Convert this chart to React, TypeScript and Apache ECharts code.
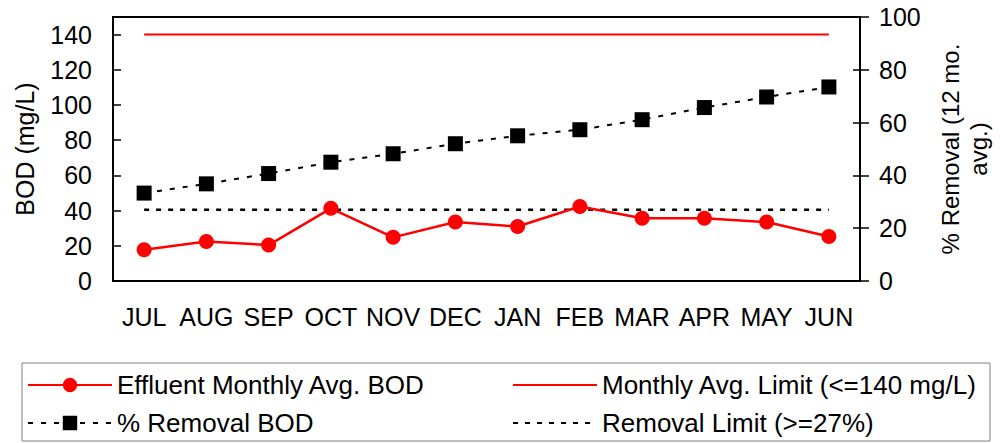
import React, { useEffect, useRef } from "react";
import * as echarts from "echarts";

const months = ["JUL", "AUG", "SEP", "OCT", "NOV", "DEC", "JAN", "FEB", "MAR", "APR", "MAY", "JUN"];
const effluentBOD = [17.7, 22.5, 20.4, 41.3, 24.8, 33.5, 31.0, 42.3, 35.6, 35.6, 33.5, 25.3];
const monthlyLimit = [140, 140, 140, 140, 140, 140, 140, 140, 140, 140, 140, 140];
const removalPct = [33.3, 36.8, 40.7, 45.0, 48.2, 52.0, 55.0, 57.3, 61.1, 65.7, 69.7, 73.5];
const removalLimit = [27, 27, 27, 27, 27, 27, 27, 27, 27, 27, 27, 27];

const names = [
  "Effluent Monthly Avg. BOD",
  "Monthly Avg. Limit (<=140 mg/L)",
  "% Removal BOD",
  "Removal Limit (>=27%)",
];

const FONT = "'Liberation Sans', Arial, sans-serif";

export default function App() {
  const ref = useRef<HTMLDivElement>(null);
  useEffect(() => {
    if (!ref.current) return;
    const chart = echarts.init(ref.current, undefined, { renderer: "svg" });
    const legendBase = {
      itemWidth: 84,
      itemHeight: 18,
      itemGap: 0,
      textStyle: { fontSize: 26, color: "#000", fontFamily: FONT },
      selectedMode: false,
    };
    chart.setOption({
      animation: false,
      textStyle: { fontFamily: FONT },
      grid: {
        left: 113,
        right: 135,
        top: 17,
        bottom: 162,
        show: true,
        borderColor: "#000",
        borderWidth: 2,
      },
      legend: [
        { ...legendBase, data: [names[0]], left: 22, top: 367 },
        { ...legendBase, data: [names[1]], left: 507, top: 367 },
        { ...legendBase, data: [names[2]], left: 22, top: 405 },
        { ...legendBase, data: [names[3]], left: 507, top: 405 },
      ],
      graphic: [
        {
          type: "rect",
          shape: { x: 22, y: 363, width: 968, height: 78 },
          style: { fill: "none", stroke: "#808080", lineWidth: 1 },
          z: -1,
        },
      ],
      xAxis: [
        {
          type: "category",
          data: months,
          boundaryGap: true,
          axisLine: { lineStyle: { color: "#000", width: 2 } },
          axisTick: { inside: true, alignWithLabel: true, length: 7, lineStyle: { color: "#000", width: 1.5 } },
          axisLabel: { color: "#000", fontSize: 25, margin: 23, fontFamily: FONT, interval: 0 },
        },
        {
          type: "category",
          data: months,
          boundaryGap: true,
          position: "bottom",
          axisLine: { show: false },
          axisTick: { inside: true, alignWithLabel: false, length: 7, lineStyle: { color: "#000", width: 1.5 } },
          axisLabel: { show: false },
        },
      ],
      yAxis: [
        {
          type: "value",
          min: 0,
          max: 150,
          interval: 20,
          position: "left",
          name: "BOD (mg/L)",
          nameLocation: "middle",
          nameRotate: 90,
          nameGap: 76,
          nameTextStyle: { color: "#000", fontSize: 25, fontFamily: FONT },
          axisLine: { show: true, lineStyle: { color: "#000", width: 2 } },
          axisTick: { show: true, inside: true, length: 8, lineStyle: { color: "#000", width: 1.5 } },
          axisLabel: { color: "#000", fontSize: 25, margin: 21, showMaxLabel: false, fontFamily: FONT },
          splitLine: { show: false },
        },
        {
          type: "value",
          min: 0,
          max: 100,
          interval: 20,
          position: "right",
          name: "% Removal (12 mo.\navg.)",
          nameLocation: "middle",
          nameRotate: 90,
          nameGap: 76,
          nameTextStyle: { color: "#000", fontSize: 24, fontFamily: FONT, align: "center", lineHeight: 28 },
          axisLine: { show: true, lineStyle: { color: "#000", width: 2 } },
          axisTick: { show: true, inside: false, length: 9, lineStyle: { color: "#000", width: 1.5 } },
          axisLabel: { color: "#000", fontSize: 25, margin: 19, fontFamily: FONT },
          splitLine: { show: false },
        },
        {
          type: "value",
          min: 0,
          max: 100,
          interval: 20,
          position: "right",
          axisLine: { show: false },
          axisTick: { show: true, inside: true, length: 7, lineStyle: { color: "#000", width: 1.5 } },
          axisLabel: { show: false },
          splitLine: { show: false },
        },
      ],
      series: [
        {
          name: names[1],
          type: "line",
          yAxisIndex: 0,
          data: monthlyLimit,
          symbol: "none",
          lineStyle: { color: "#ff0000", width: 2 },
          itemStyle: { color: "rgba(0,0,0,0)" },
          z: 2,
        },
        {
          name: names[3],
          type: "line",
          yAxisIndex: 1,
          data: removalLimit,
          symbol: "none",
          lineStyle: { color: "#000", width: 2.5, type: [5, 7] },
          itemStyle: { color: "rgba(0,0,0,0)" },
          z: 2,
        },
        {
          name: names[2],
          type: "line",
          yAxisIndex: 1,
          data: removalPct,
          symbol: "rect",
          symbolSize: 15,
          lineStyle: { color: "#000", width: 2, type: [5, 8] },
          itemStyle: { color: "#000" },
          z: 3,
        },
        {
          name: names[0],
          type: "line",
          yAxisIndex: 0,
          data: effluentBOD,
          symbol: "circle",
          symbolSize: 15,
          lineStyle: { color: "#ff0000", width: 2.5 },
          itemStyle: { color: "#ff0000" },
          z: 4,
        },
      ],
    });
    return () => chart.dispose();
  }, []);
  return <div ref={ref} style={{ position: "absolute", left: 0, top: 0, width: 1000, height: 443 }} />;
}
